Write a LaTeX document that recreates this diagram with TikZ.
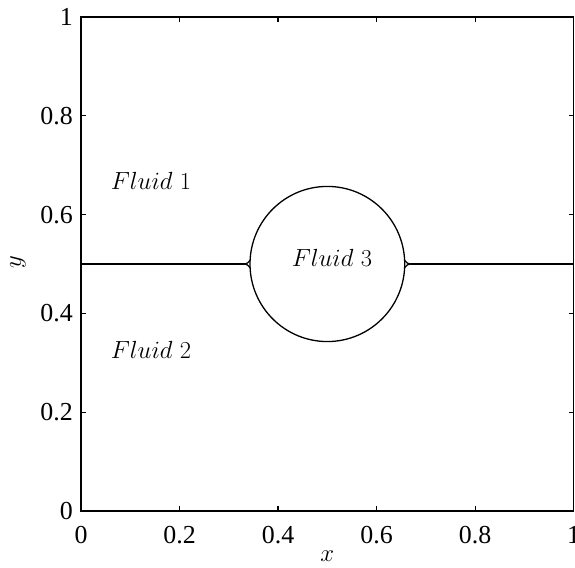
\documentclass[tikz,border=0pt]{standalone}
\usepackage{fontspec}
\newfontfamily\tickfont{Liberation Serif}
\begin{document}
\begin{tikzpicture}[x=492.7bp,y=494bp,
  ticklab/.style={font=\tickfont\fontsize{26}{26}\selectfont, inner sep=0},
  fluid/.style={font=\fontsize{24.5}{24.5}\selectfont, anchor=base west, inner sep=0},
  axlab/.style={font=\fontsize{24.5}{24.5}\selectfont, inner sep=0},
  axisline/.style={line width=1.2bp},
  curve/.style={line width=1.3bp}]
\useasboundingbox (-0.1644,-0.1134) rectangle (1.0026,1.0344);
\draw[axisline] (0,0) rectangle (1,1);
\foreach \t [count=\i] in {0,0.2,0.4,0.6,0.8,1} {
  \draw[axisline] (\t,0) -- ++(0,5bp);
  \draw[axisline] (\t,1) -- ++(0,-5bp);
  \draw[axisline] (0,\t) -- ++(5bp,0);
  \draw[axisline] (1,\t) -- ++(-5bp,0);
  \node[ticklab, anchor=base] (xt\i) at (\t,-0.0648) {\t};
  \node[ticklab, anchor=east] (yt\i) at ([xshift=-8bp]0,\t) {\t};
}
\node[axlab] (xlab) at (0.5,-0.091) {$x$};
\node[axlab, rotate=90] (ylab) at (-0.1279,0.504) {$y$};
\node[fluid] (f1) at (0.0603,0.651) {$Fluid$~1};
\node[fluid] (f2) at (0.0603,0.3077) {$Fluid$~2};
\node[fluid] (f3) at (0.4276,0.4945) {$Fluid$~3};
\coordinate (c) at (0.5,0.5);
\draw[curve] (c) circle [radius=0.157];
% left interface
\coordinate (la) at (0,0.5);
\coordinate (lb) at (0.330,0.5);
\coordinate (lu) at ([shift={(177.3:0.157)}]c);
\coordinate (ld) at ([shift={(182.7:0.157)}]c);
\draw[curve] (la) -- (lb);
\draw[curve] (lb) .. controls (0.337,0.5) and (0.341,0.504) .. (lu);
\draw[curve] (lb) .. controls (0.337,0.5) and (0.341,0.496) .. (ld);
% right interface
\coordinate (ra) at (1,0.5);
\coordinate (rb) at (0.670,0.5);
\coordinate (ru) at ([shift={(2.7:0.157)}]c);
\coordinate (rd) at ([shift={(-2.7:0.157)}]c);
\draw[curve] (ra) -- (rb);
\draw[curve] (rb) .. controls (0.663,0.5) and (0.659,0.504) .. (ru);
\draw[curve] (rb) .. controls (0.663,0.5) and (0.659,0.496) .. (rd);
\end{tikzpicture}
\end{document}
